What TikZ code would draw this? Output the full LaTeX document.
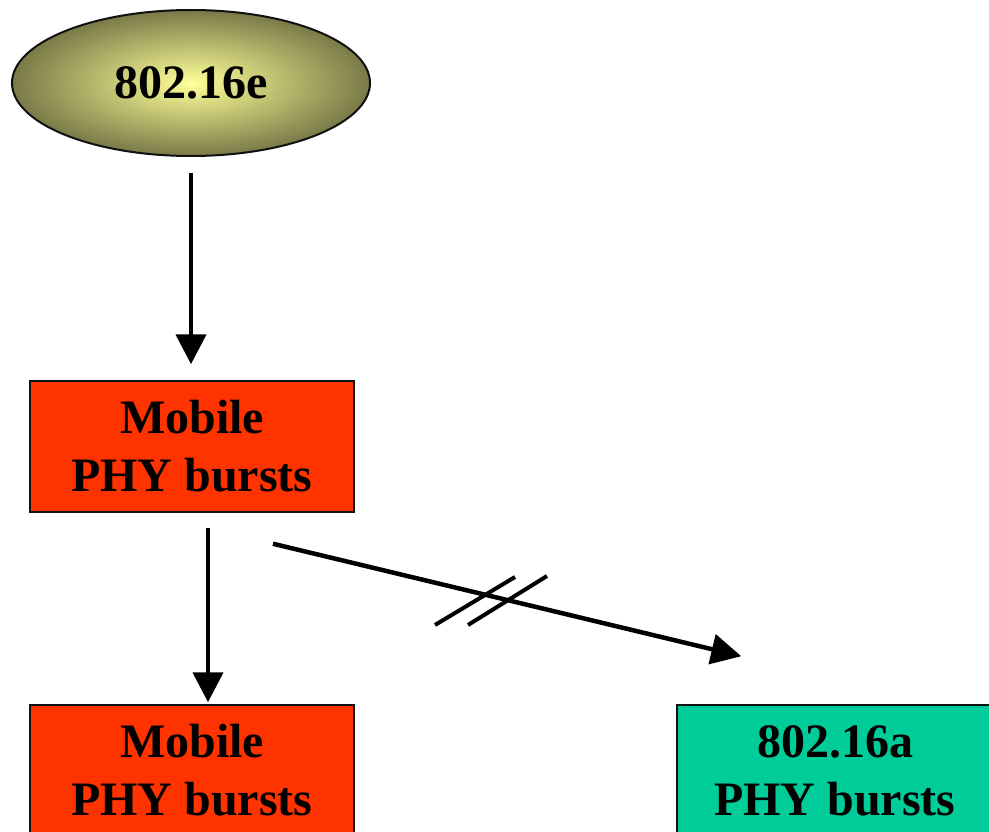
\documentclass[tikz,border=0pt]{standalone}
\usepackage{fontspec}
\setmainfont{Liberation Serif}
\usepackage{xcolor}
\usetikzlibrary{positioning, shapes.geometric, arrows.meta, calc}
\definecolor{ink}{HTML}{111111}
\definecolor{burst}{HTML}{FF3300}
\definecolor{legacy}{HTML}{00CC99}
\definecolor{olive}{HTML}{7A7A48}
\definecolor{glow}{HTML}{FFFF99}

\begin{document}
\begin{tikzpicture}[x=1pt, y=-1pt, font=\bfseries\fontsize{48}{58}\selectfont,
  box/.style={rectangle, draw=ink, line width=1.5pt, minimum width=324pt, minimum height=131pt, align=center, inner sep=0pt},
  flow/.style={-{Triangle[length=30pt, width=30pt]}, line width=4.5pt},
  cut/.style={line width=4pt}]
  \clip (0,0) rectangle (989,832);
  \node[ellipse, draw=ink, line width=2pt, inner color=glow, outer color=olive, minimum width=358pt, minimum height=146pt] (std) at (191,83) {802.16e};
  \node[box, fill=burst] (mob1) at (192,446.5) {Mobile\\PHY bursts};
  \node[box, fill=burst] (mob2) at (192,770.5) {Mobile\\PHY bursts};
  \node[box, fill=legacy, minimum width=316pt] (fixed) at (835,770.5) {802.16a\\PHY bursts};

  \draw[flow, shorten <=16pt, shorten >=16pt] (std.south) -- (std.south |- mob1.north);
  \draw[flow, shorten <=15pt, shorten >=2pt] ([xshift=16pt]mob1.south) -- ([xshift=16pt]mob2.north);
  \draw[flow] ($(mob1.south)+(81,31)$) -- ($(fixed.north west)+(65,-48)$);
  % broken link marks
  \draw[cut] (435,625) -- (515,577);
  \draw[cut] (468,625) -- (547,576);
\end{tikzpicture}
\end{document}
